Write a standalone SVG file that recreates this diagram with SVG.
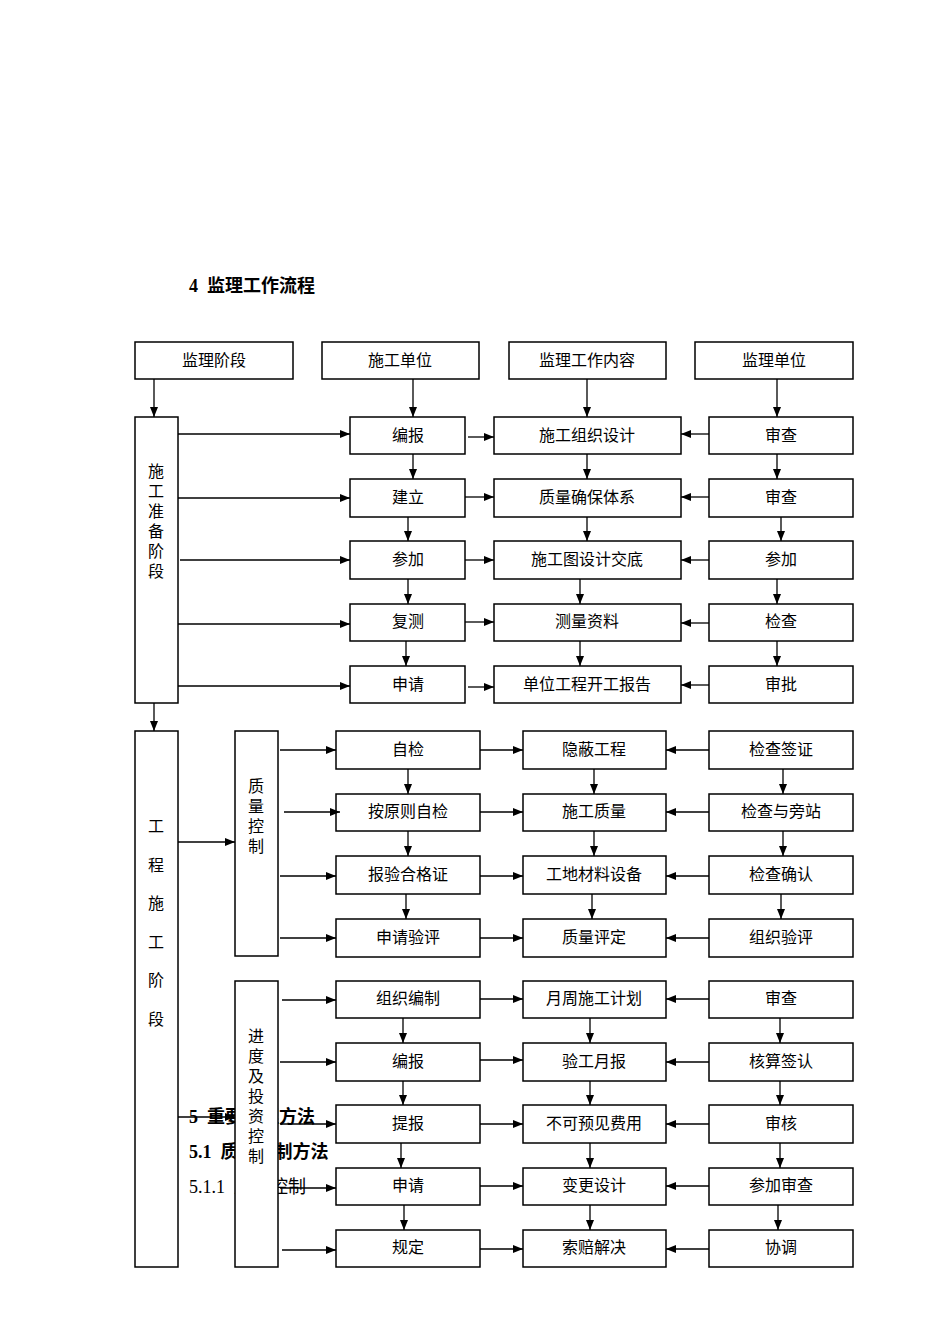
<svg xmlns="http://www.w3.org/2000/svg" width="950" height="1344" viewBox="0 0 950 1344">
<style>
text{font-family:"Liberation Serif","Noto Sans CJK SC",serif;fill:#000}
.b rect{fill:#fff;stroke:#000;stroke-width:1.5}
.b text{font-size:16px;text-anchor:middle}
.c line{stroke:#000;stroke-width:1.3;marker-end:url(#a)}
.h{font-size:18px;font-weight:bold;white-space:pre}
.p{font-size:18px;white-space:pre}
</style>
<defs><marker id="a" viewBox="0 0 10 10" refX="10" refY="5" markerWidth="10" markerHeight="10" markerUnits="userSpaceOnUse" orient="auto"><path d="M0,1L10,5L0,9z"/></marker></defs>
<rect width="950" height="1344" fill="#fff"/>
<text class="h" x="189" y="292">4  监理工作流程</text>
<text class="h" x="189" y="1123">5  重要监理方法</text>
<text class="h" x="189" y="1158">5.1  质量控制方法</text>
<text class="p" x="189" y="1193">5.1.1  质量控制</text>
<g class="b">
<g id="h1"><rect x="135" y="342" width="158" height="37"/><text x="214" y="366">监理阶段</text></g>
<g id="h2"><rect x="322" y="342" width="157" height="37"/><text x="400" y="366">施工单位</text></g>
<g id="h3"><rect x="509" y="342" width="157" height="37"/><text x="587" y="366">监理工作内容</text></g>
<g id="h4"><rect x="695" y="342" width="158" height="37"/><text x="774" y="366">监理单位</text></g>
<g id="prep"><rect x="135" y="417" width="43" height="286"/><text x="156" y="477">施</text><text x="156" y="497">工</text><text x="156" y="517">准</text><text x="156" y="537">备</text><text x="156" y="557">阶</text><text x="156" y="577">段</text></g>
<g id="p1a"><rect x="350" y="417" width="115" height="37"/><text x="408" y="441">编报</text></g>
<g id="p1b"><rect x="494" y="417" width="187" height="37"/><text x="587" y="441">施工组织设计</text></g>
<g id="p1c"><rect x="709" y="417" width="144" height="37"/><text x="781" y="441">审查</text></g>
<g id="p2a"><rect x="350" y="479" width="115" height="38"/><text x="408" y="503">建立</text></g>
<g id="p2b"><rect x="494" y="479" width="187" height="38"/><text x="587" y="503">质量确保体系</text></g>
<g id="p2c"><rect x="709" y="479" width="144" height="38"/><text x="781" y="503">审查</text></g>
<g id="p3a"><rect x="350" y="541" width="115" height="38"/><text x="408" y="565">参加</text></g>
<g id="p3b"><rect x="494" y="541" width="187" height="38"/><text x="587" y="565">施工图设计交底</text></g>
<g id="p3c"><rect x="709" y="541" width="144" height="38"/><text x="781" y="565">参加</text></g>
<g id="p4a"><rect x="350" y="604" width="115" height="37"/><text x="408" y="627">复测</text></g>
<g id="p4b"><rect x="494" y="604" width="187" height="37"/><text x="587" y="627">测量资料</text></g>
<g id="p4c"><rect x="709" y="604" width="144" height="37"/><text x="781" y="627">检查</text></g>
<g id="p5a"><rect x="350" y="666" width="115" height="37"/><text x="408" y="690">申请</text></g>
<g id="p5b"><rect x="494" y="666" width="187" height="37"/><text x="587" y="690">单位工程开工报告</text></g>
<g id="p5c"><rect x="709" y="666" width="144" height="37"/><text x="781" y="690">审批</text></g>
<g id="cons"><rect x="135" y="731" width="43" height="536"/><text x="156" y="832">工</text><text x="156" y="871">程</text><text x="156" y="909">施</text><text x="156" y="948">工</text><text x="156" y="986">阶</text><text x="156" y="1025">段</text></g>
<g id="qc"><rect x="235" y="731" width="43" height="225"/><text x="256" y="792">质</text><text x="256" y="812">量</text><text x="256" y="832">控</text><text x="256" y="852">制</text></g>
<g id="pc"><rect x="235" y="981" width="43" height="286"/><text x="256" y="1042">进</text><text x="256" y="1062">度</text><text x="256" y="1082">及</text><text x="256" y="1102">投</text><text x="256" y="1122">资</text><text x="256" y="1142">控</text><text x="256" y="1162">制</text></g>
<g id="q1a"><rect x="336" y="731" width="144" height="38"/><text x="408" y="755">自检</text></g>
<g id="q1b"><rect x="523" y="731" width="143" height="38"/><text x="594" y="755">隐蔽工程</text></g>
<g id="q1c"><rect x="709" y="731" width="144" height="38"/><text x="781" y="755">检查签证</text></g>
<g id="q2a"><rect x="336" y="794" width="144" height="37"/><text x="408" y="817">按原则自检</text></g>
<g id="q2b"><rect x="523" y="794" width="143" height="37"/><text x="594" y="817">施工质量</text></g>
<g id="q2c"><rect x="709" y="794" width="144" height="37"/><text x="781" y="817">检查与旁站</text></g>
<g id="q3a"><rect x="336" y="856" width="144" height="38"/><text x="408" y="880">报验合格证</text></g>
<g id="q3b"><rect x="523" y="856" width="143" height="38"/><text x="594" y="880">工地材料设备</text></g>
<g id="q3c"><rect x="709" y="856" width="144" height="38"/><text x="781" y="880">检查确认</text></g>
<g id="q4a"><rect x="336" y="919" width="144" height="38"/><text x="408" y="943">申请验评</text></g>
<g id="q4b"><rect x="523" y="919" width="143" height="38"/><text x="594" y="943">质量评定</text></g>
<g id="q4c"><rect x="709" y="919" width="144" height="38"/><text x="781" y="943">组织验评</text></g>
<g id="s1a"><rect x="336" y="981" width="144" height="37"/><text x="408" y="1004">组织编制</text></g>
<g id="s1b"><rect x="523" y="981" width="143" height="37"/><text x="594" y="1004">月周施工计划</text></g>
<g id="s1c"><rect x="709" y="981" width="144" height="37"/><text x="781" y="1004">审查</text></g>
<g id="s2a"><rect x="336" y="1043" width="144" height="38"/><text x="408" y="1067">编报</text></g>
<g id="s2b"><rect x="523" y="1043" width="143" height="38"/><text x="594" y="1067">验工月报</text></g>
<g id="s2c"><rect x="709" y="1043" width="144" height="38"/><text x="781" y="1067">核算签认</text></g>
<g id="s3a"><rect x="336" y="1105" width="144" height="38"/><text x="408" y="1129">提报</text></g>
<g id="s3b"><rect x="523" y="1105" width="143" height="38"/><text x="594" y="1129">不可预见费用</text></g>
<g id="s3c"><rect x="709" y="1105" width="144" height="38"/><text x="781" y="1129">审核</text></g>
<g id="s4a"><rect x="336" y="1168" width="144" height="37"/><text x="408" y="1191">申请</text></g>
<g id="s4b"><rect x="523" y="1168" width="143" height="37"/><text x="594" y="1191">变更设计</text></g>
<g id="s4c"><rect x="709" y="1168" width="144" height="37"/><text x="781" y="1191">参加审查</text></g>
<g id="s5a"><rect x="336" y="1230" width="144" height="37"/><text x="408" y="1253">规定</text></g>
<g id="s5b"><rect x="523" y="1230" width="143" height="37"/><text x="594" y="1253">索赔解决</text></g>
<g id="s5c"><rect x="709" y="1230" width="144" height="37"/><text x="781" y="1253">协调</text></g>
</g>
<g class="c" id="connectors">
<line x1="154" y1="379" x2="154" y2="417"/><line x1="413" y1="379" x2="413" y2="417"/><line x1="587" y1="379" x2="587" y2="417"/><line x1="777" y1="379" x2="777" y2="417"/>
<line x1="154" y1="703" x2="154" y2="731"/>
<line x1="178" y1="434" x2="350" y2="434"/><line x1="178" y1="498" x2="350" y2="498"/><line x1="180" y1="560" x2="350" y2="560"/><line x1="178" y1="624" x2="350" y2="624"/><line x1="178" y1="686" x2="350" y2="686"/>
<line x1="468" y1="437" x2="494" y2="437"/><line x1="465" y1="497" x2="494" y2="497"/><line x1="465" y1="560" x2="494" y2="560"/><line x1="465" y1="622" x2="494" y2="622"/><line x1="468" y1="687" x2="494" y2="687"/>
<line x1="709" y1="434" x2="681" y2="434"/><line x1="709" y1="497" x2="681" y2="497"/><line x1="709" y1="560" x2="681" y2="560"/><line x1="709" y1="623" x2="681" y2="623"/><line x1="709" y1="685" x2="681" y2="685"/>
<line x1="413" y1="454" x2="413" y2="479"/><line x1="408" y1="517" x2="408" y2="541"/><line x1="408" y1="579" x2="408" y2="604"/><line x1="406" y1="641" x2="406" y2="666"/>
<line x1="587" y1="454" x2="587" y2="479"/><line x1="587" y1="517" x2="587" y2="541"/><line x1="580" y1="579" x2="580" y2="604"/><line x1="580" y1="641" x2="580" y2="666"/>
<line x1="777" y1="454" x2="777" y2="479"/><line x1="781" y1="517" x2="781" y2="541"/><line x1="777" y1="579" x2="777" y2="604"/><line x1="777" y1="641" x2="777" y2="666"/>
<line x1="178" y1="842" x2="235" y2="842"/><line x1="178" y1="1117" x2="235" y2="1117"/>
<line x1="280" y1="750" x2="336" y2="750"/><line x1="284" y1="812" x2="340" y2="812"/><line x1="280" y1="876" x2="336" y2="876"/><line x1="280" y1="938" x2="336" y2="938"/>
<line x1="282" y1="1000" x2="336" y2="1000"/><line x1="280" y1="1062" x2="336" y2="1062"/><line x1="280" y1="1124" x2="336" y2="1124"/><line x1="280" y1="1188" x2="336" y2="1188"/><line x1="282" y1="1250" x2="336" y2="1250"/>
<line x1="480" y1="750" x2="523" y2="750"/><line x1="480" y1="812" x2="523" y2="812"/><line x1="480" y1="876" x2="523" y2="876"/><line x1="480" y1="938" x2="523" y2="938"/>
<line x1="480" y1="999" x2="523" y2="999"/><line x1="480" y1="1060" x2="523" y2="1060"/><line x1="480" y1="1124" x2="523" y2="1124"/><line x1="480" y1="1186" x2="523" y2="1186"/><line x1="480" y1="1249" x2="523" y2="1249"/>
<line x1="709" y1="750" x2="666" y2="750"/><line x1="709" y1="812" x2="666" y2="812"/><line x1="709" y1="876" x2="666" y2="876"/><line x1="709" y1="938" x2="666" y2="938"/>
<line x1="709" y1="999" x2="666" y2="999"/><line x1="709" y1="1062" x2="666" y2="1062"/><line x1="709" y1="1124" x2="666" y2="1124"/><line x1="709" y1="1186" x2="666" y2="1186"/><line x1="709" y1="1249" x2="666" y2="1249"/>
<line x1="408" y1="769" x2="408" y2="794"/><line x1="408" y1="831" x2="408" y2="856"/><line x1="406" y1="894" x2="406" y2="919"/>
<line x1="594" y1="769" x2="594" y2="794"/><line x1="594" y1="831" x2="594" y2="856"/><line x1="592" y1="894" x2="592" y2="919"/>
<line x1="783" y1="769" x2="783" y2="794"/><line x1="783" y1="831" x2="783" y2="856"/><line x1="781" y1="894" x2="781" y2="919"/>
<line x1="403" y1="1018" x2="403" y2="1043"/><line x1="403" y1="1081" x2="403" y2="1105"/><line x1="401" y1="1143" x2="401" y2="1168"/><line x1="404" y1="1205" x2="404" y2="1230"/>
<line x1="590" y1="1018" x2="590" y2="1043"/><line x1="590" y1="1081" x2="590" y2="1105"/><line x1="590" y1="1143" x2="590" y2="1168"/><line x1="590" y1="1205" x2="590" y2="1230"/>
<line x1="780" y1="1018" x2="780" y2="1043"/><line x1="780" y1="1081" x2="780" y2="1105"/><line x1="780" y1="1143" x2="780" y2="1168"/><line x1="778" y1="1205" x2="778" y2="1230"/>
</g>
</svg>
